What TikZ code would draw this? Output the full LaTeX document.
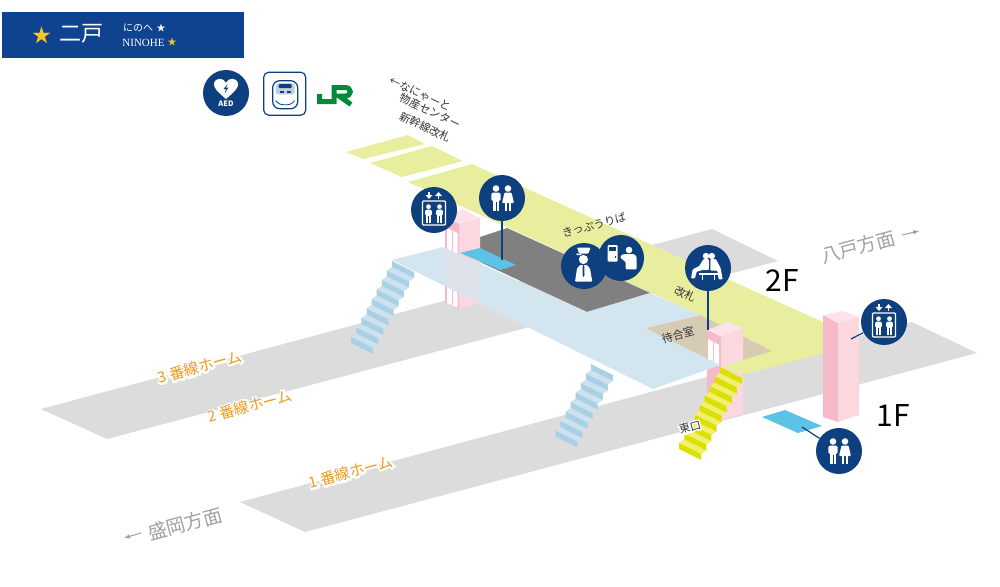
\documentclass[tikz,border=0pt]{standalone}
\usepackage{fontspec}
\usepackage{xcolor}
\usepackage{tikz}
\usetikzlibrary{arrows}
\setmainfont{Noto Sans CJK JP}
\newfontfamily\hdrserif{Liberation Serif}
\newfontfamily\halofont[FakeBold=25]{Noto Sans CJK JP}

\definecolor{hdrblue}{HTML}{10438F}
\definecolor{navy}{HTML}{0E3F7E}
\definecolor{gold}{HTML}{F6C81E}
\definecolor{platgray}{HTML}{DCDCDC}
\definecolor{darkfloor}{HTML}{808080}
\definecolor{walkyellow}{HTML}{E9EE9E}
\definecolor{slabblue}{HTML}{D3E6EF}
\definecolor{waitbeige}{HTML}{D8CBB4}
\definecolor{wccyan}{HTML}{5CC3E6}
\definecolor{pinkdark}{HTML}{F5BACA}
\definecolor{pinklight}{HTML}{FBD7E0}
\definecolor{pinktop}{HTML}{FDE3E9}
\definecolor{stairriser}{HTML}{A9D1E3}
\definecolor{stairtread}{HTML}{CDE1F0}
\definecolor{exitriser}{HTML}{DCE000}
\definecolor{exittread}{HTML}{EEF06E}
\definecolor{jrgreen}{HTML}{008A3C}
\definecolor{platorange}{HTML}{EE9A1E}
\definecolor{dirgray}{HTML}{A0A0A0}

\newcommand{\halotext}[1]{\rlap{\halofont\color{white}#1}#1}
\newcommand{\stairflight}[5]{%
  \foreach \i in {1,...,#3}{
    \ifnum\i<#3
      \fill[#5,shift={({#1-5.1*(\i-1)},{#2+9.5*(\i-1)})}] (0,6) -- (22,17) -- (16.9,20.5) -- (-5.1,9.5) -- cycle;
    \fi
    \fill[#4,shift={({#1-5.1*(\i-1)},{#2+9.5*(\i-1)})}] (0,0) -- (22,11) -- (22,17) -- (0,6) -- cycle;
  }%
}

\tikzset{
  iconcirc/.style={circle,fill=navy,minimum size=46pt,inner sep=0pt},
  leader/.style={draw=navy,line width=1.2pt},
  wlabel/.style={text=black!80,font=\fontsize{11}{13}\selectfont,inner sep=0pt},
  platlabel/.style={text=platorange,rotate=15,font=\fontsize{15}{17}\selectfont,inner sep=0pt},
  dirlabel/.style={text=dirgray,rotate=15,font=\fontsize{19}{21}\selectfont,inner sep=0pt},
  floorlabel/.style={text=black,font=\fontsize{30}{32}\selectfont,inner sep=0pt},
  dirarrow/.style={draw=dirgray,line width=1pt,-latex},
  person/.pic={
    \fill[white] (0,-9.5) circle (3.3);
    \fill[white,rounded corners=1.5pt] (-4.7,-5.5) rectangle (4.7,3);
    \fill[white] (-3.2,1) rectangle (3.2,13);
    \draw[navy,line width=.5pt] (0,4) -- (0,13);
  },
  personskirt/.pic={
    \fill[white] (0,-9.5) circle (3.3);
    \fill[white,rounded corners=1pt] (-3.5,-5.5) -- (3.5,-5.5) -- (6,5) -- (-6,5) -- cycle;
    \fill[white] (-3,4) rectangle (-.6,13);
    \fill[white] (.6,4) rectangle (3,13);
  },
  wcpair/.pic={
    \pic[shift={(-6,0)}] {person};
    \pic[shift={(6,0)}] {personskirt};
  },
  liftcar/.pic={
    \draw[white,line width=1.3pt,rounded corners=1pt] (-11.5,-9) rectangle (11.5,15);
    \pic[shift={(-5.5,3.5)},scale=.72] {person};
    \pic[shift={(5.5,3.5)},scale=.72] {person};
    \fill[white] (-5.6,-18) rectangle (-4.4,-14);
    \fill[white] (-8.5,-15) -- (-1.5,-15) -- (-5,-11) -- cycle;
    \fill[white] (3.9,-15) rectangle (5.1,-11);
    \fill[white] (1,-14) -- (8,-14) -- (4.5,-18) -- cycle;
  },
  guardman/.pic={
    \fill[white] (-.6,-6.5) circle (4.6);
    \fill[navy] (-7,-12.5) rectangle (6,-10.8);
    \fill[white,rounded corners=1pt] (-7,-18.5) -- (6.5,-18.5) -- (4.5,-12.5) -- (-5,-12.5) -- cycle;
    \fill[white] (-8,-12.5) -- (-2,-12.5) -- (-3,-10.8) -- (-7,-10.8) -- cycle;
    \fill[white,rounded corners=1pt] (-4,-1) -- (3,-1) -- (6,2.5) -- (8.3,15.7) -- (-9,15.7) -- (-7,2.5) -- cycle;
    \fill[navy] (-1.2,-1) -- (.2,-1) -- (.5,9) -- (-.5,11) -- (-1.5,9) -- cycle;
  },
  fareman/.pic={
    \fill[white,rounded corners=1pt] (-13.3,-13) rectangle (-3.3,3.7);
    \fill[navy] (-11.7,-11.3) rectangle (-5,-7);
    \fill[navy] (-6.5,-2) rectangle (-5,-.5);
    \fill[white] (8,-8) circle (3.3);
    \fill[white,rounded corners=1pt] (15.7,11.3) -- (4.7,11.3) -- (4.7,4) -- (-1,-.5) -- (1,-3.5) -- (6,-4) -- (13,-4) -- (15.7,-1) -- cycle;
  },
  benchpair/.pic={
    \fill[white] (-2,-12) circle (3.2);
    \fill[white] (3.8,-12) circle (3.2);
    \fill[white,rounded corners=.8pt] (-4.7,-8.8) -- (.9,-8.8) -- (.9,2) -- (-5.3,2) -- (-11.3,3.7) -- (-13,10.3) -- (-17,10.3) -- (-15.3,1.3) -- (-8.7,-2) -- cycle;
    \fill[white,rounded corners=.8pt] (2.4,-8.8) -- (8,-8.8) -- (12.7,.3) -- (14.7,11.3) -- (10.7,11.3) -- (9.3,2.7) -- (2.4,2.7) -- cycle;
    \fill[white] (-8.7,5) rectangle (10.3,7);
    \fill[white] (-6.5,6) rectangle (-4.8,12);
    \fill[white] (5.5,6) rectangle (7.2,12);
  },
  aedheart/.pic={
    \fill[white] (0,8) .. controls (-8,1) and (-13,-3) .. (-12,-8) .. controls (-11,-13) and (-3,-14) .. (0,-8.5) .. controls (3,-14) and (11,-13) .. (12,-8) .. controls (13,-3) and (8,1) .. (0,8) -- cycle;
    \fill[navy] (1.5,-7) -- (-2.5,-2) -- (0,-2) -- (-1.5,2.5) -- (2.5,-3.5) -- (0,-3.5) -- cycle;
  },
  trainfront/.pic={
    \filldraw[draw=navy,fill=white,line width=1.2pt,rounded corners=7pt] (-12,-13) rectangle (13,15);
    \fill[navy!25,rounded corners=3pt] (-9,-10.5) rectangle (10,1);
    \fill[navy,rounded corners=1pt] (-6,-9.5) rectangle (7,-5.5);
    \fill[navy] (-5,-2.5) rectangle (-.5,-1);
    \fill[navy] (2,-2.5) rectangle (6.5,-1);
    \draw[navy,line width=.8pt,rounded corners=3pt] (-9,7) -- (-5,11) -- (6,11) -- (10,7);
  },
}

\begin{document}
\begin{tikzpicture}[x=1pt,y=-1pt]
  \useasboundingbox (0,0) rectangle (1000,586);

  % station name
  \node[fill=hdrblue,minimum width=242pt,minimum height=46pt,inner sep=0pt] (hdrBar) at (123,35) {};
  \node[text=gold,font=\fontsize{19}{21}\selectfont,inner sep=0pt] (hdrStar) at (42,35) {★};
  \node[text=white,font=\fontsize{22}{24}\selectfont,inner sep=0pt] (hdrKanji) at (81,34) {二戸};
  \node[text=white,font=\fontsize{10}{12}\selectfont,inner sep=0pt] (hdrKana) at (138,28) {にのへ};
  \node[text=white,font=\fontsize{9}{11}\selectfont,inner sep=0pt] (hdrKanaStar) at (161,28) {★};
  \node[text=white,font=\hdrserif\fontsize{11}{13}\selectfont,inner sep=0pt] (hdrRoman) at (143.5,42.5) {NINOHE};
  \node[text=gold,font=\fontsize{9}{11}\selectfont,inner sep=0pt] (hdrRomanStar) at (172,42.5) {★};

  % facility marks
  \node[iconcirc] (aedMark) at (226,93) {};
  \pic at (226,91) {aedheart};
  \node[text=white,font=\bfseries\fontsize{7.5}{9}\selectfont,inner sep=0pt] (aedText) at (226,104) {AED};
  \node[draw=navy,line width=1.2pt,rounded corners=5pt,minimum width=42pt,minimum height=43pt,inner sep=0pt] (trainMark) at (284.7,93.7) {};
  \pic at (284.7,93.7) {trainfront};
  \draw[jrgreen,line width=5pt] (319.5,94) -- (319.5,101.5) -- (334,101.5) -- (334,87.5) -- (345,87.5) .. controls (352,87.5) and (352,96) .. (345,96) -- (339,96) -- (351,104.5);

  % platforms
  \fill[platgray] (41,409) -- (712,229) -- (778,261) -- (107,439) -- cycle;
  \fill[platgray] (240,502) -- (912,322) -- (977,353) -- (305,532) -- cycle;

  % elevator tower at the platform, lower part
  \fill[pinkdark] (707,365) -- (721,360) -- (721,420) -- (707,415) -- cycle;
  \fill[pinklight] (721,360) -- (743,360) -- (743,413) -- (721,420) -- cycle;

  % concourse
  \fill[walkyellow] (346,152) -- (408,135) -- (425,144) -- (363,159) -- cycle;
  \fill[walkyellow] (370,163) -- (432,146) -- (463,161) -- (402,177) -- cycle;
  \fill[walkyellow] (408,182) -- (472,164) -- (823,322) -- (823,353) -- (743,375) -- (720,367) -- (700,315) -- cycle;
  \fill[darkfloor] (480,237) -- (507,228) -- (650,293) -- (587,312) -- (480,262) -- cycle;
  \fill[waitbeige] (645,328) -- (700,315) -- (772,351) -- (720,367) -- cycle;

  % elevator tower behind the bridge
  \fill[pinktop] (445,216) -- (463,209) -- (480,218) -- (459,224) -- cycle;
  \fill[pinklight] (459,224) -- (480,218) -- (480,303) -- (459,309) -- cycle;
  \fill[pinkdark] (445,216) -- (459,224) -- (459,309) -- (445,303) -- cycle;
  \fill[white] (447,228) -- (457.5,233) -- (457.5,307.5) -- (447,303.5) -- cycle;
  \fill[pinkdark] (451.5,230) rectangle (453,305);
  \fill[wccyan] (460,253) -- (480,248) -- (516,265) -- (500,270) -- cycle;

  % elevator tower at the waiting room, upper part
  \fill[pinktop] (707,330) -- (728,322) -- (743,328) -- (721,337) -- cycle;
  \fill[pinkdark] (707,330) -- (721,337) -- (721,367) -- (707,360) -- cycle;
  \fill[pinklight] (721,337) -- (743,328) -- (743,360) -- (721,367) -- cycle;
  \fill[white] (708,339) -- (719,345) -- (719,366) -- (708,360) -- cycle;
  \fill[pinkdark] (713,341) rectangle (714,363);

  % bridge
  \fill[slabblue] (392,260) -- (443,247) -- (587,312) -- (650,293) -- (700,315) -- (645,328) -- (720,365) -- (653,389) -- cycle;
  \fill[pinklight,opacity=.25] (445,248) -- (480,264) -- (480,303.5) -- (445,286) -- cycle;

  % stairs
  \stairflight{392}{261}{9}{stairriser}{stairtread}
  \stairflight{591}{364}{8}{stairriser}{stairtread}
  \stairflight{720}{367}{9}{exitriser}{exittread}

  % large elevator tower
  \fill[pinkdark] (823,315) -- (838,323) -- (838,422) -- (823,417) -- cycle;
  \fill[pinklight] (838,323) -- (859,317) -- (859,415) -- (838,422) -- cycle;
  \fill[pinktop] (823,315) -- (842,311) -- (859,317) -- (838,323) -- cycle;

  % ground floor toilet
  \fill[wccyan] (762,417) -- (785,410) -- (822,426) -- (798,433) -- cycle;

  % icons and their leaders
  \node[iconcirc] (liftUpper) at (434,210) {};
  \pic at (434,210) {liftcar};
  \coordinate (wcUpperFoot) at (502,260);
  \node[iconcirc] (wcUpper) at (502,198) {};
  \draw[leader] (wcUpper) -- (wcUpperFoot);
  \pic at (502,198) {wcpair};
  \node[iconcirc] (fareMark) at (621,258) {};
  \pic at (621,258) {fareman};
  \node[iconcirc] (guardMark) at (584,266) {};
  \pic at (584,266) {guardman};
  \coordinate (waitFoot) at (708,330);
  \node[iconcirc] (waitMark) at (708,268) {};
  \draw[leader] (waitMark) -- (waitFoot);
  \pic at (708,268) {benchpair};
  \coordinate (liftLowerFoot) at (851,339);
  \node[iconcirc] (liftLower) at (884,322) {};
  \draw[leader] (liftLower) -- (liftLowerFoot);
  \pic at (884,322) {liftcar};
  \coordinate (wcLowerFoot) at (802,427);
  \node[iconcirc] (wcLower) at (839,451) {};
  \draw[leader] (wcLower) -- (wcLowerFoot);
  \pic at (839,451) {wcpair};

  % texts
  \node[wlabel,rotate=-25] (northLine1) at (420,94) {←なにゃーと};
  \node[wlabel,rotate=-25] (northLine2) at (430,111) {物産センター};
  \node[wlabel,rotate=-25] (northLine3) at (425,127) {新幹線改札};
  \node[wlabel,rotate=15] (ticketLabel) at (594,225) {きっぷうりば};
  \node[wlabel,rotate=-25] (gateLabel) at (685,294) {改札};
  \node[wlabel,rotate=15] (waitLabel) at (678,335) {待合室};
  \node[wlabel,rotate=15] (exitLabel) at (690,427) {\halotext{東口}};
  \node[platlabel] (plat3) at (200,367) {\halotext{3 番線ホーム}};
  \node[platlabel] (plat2) at (250,406) {\halotext{2 番線ホーム}};
  \node[platlabel] (plat1) at (351,472) {\halotext{1 番線ホーム}};
  \node[floorlabel] (floor2) at (782,281) {2F};
  \node[floorlabel] (floor1) at (893,415) {1F};
  \node[dirlabel] (dirSouth) at (185,524) {盛岡方面};
  \node[dirlabel] (dirNorth) at (858,247) {八戸方面};
  \coordinate (southA) at (141,533);
  \coordinate (southB) at (124,538);
  \coordinate (northA) at (902,235);
  \coordinate (northB) at (919,231);
  \draw[dirarrow] (southA) -- (southB);
  \draw[dirarrow] (northA) -- (northB);

\end{tikzpicture}
\end{document}
